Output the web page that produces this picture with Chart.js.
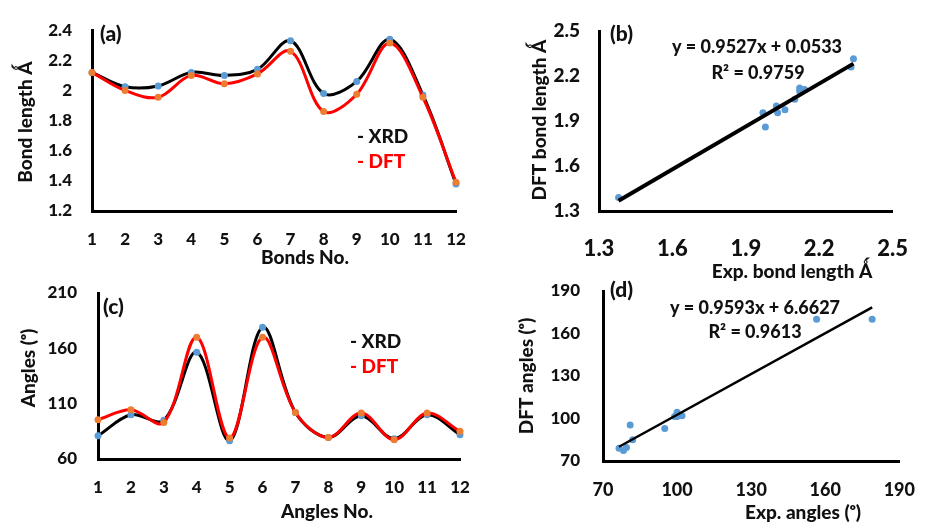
<!DOCTYPE html>
<html>
<head>
<meta charset="utf-8">
<script src="https://cdn.jsdelivr.net/npm/chart.js@4/dist/chart.umd.min.js"></script>
<style>
  html, body { margin: 0; padding: 0; background: #fff; }
  #wrap { position: relative; width: 933px; height: 523px; }
  #wrap canvas { position: absolute; left: 0; top: 0; }
</style>
</head>
<body>
<div id="wrap">
  <canvas id="chartA" width="933" height="523"></canvas>
  <canvas id="chartB" width="933" height="523"></canvas>
  <canvas id="chartC" width="933" height="523"></canvas>
  <canvas id="chartD" width="933" height="523"></canvas>
</div>
<script>
// data
const bondNo = ['1', '2', '3', '4', '5', '6', '7', '8', '9', '10', '11', '12'];
const bondXRD = [2.12, 2.025, 2.03, 2.12, 2.10, 2.14, 2.33, 1.98, 2.06, 2.34, 1.97, 1.38];
const bondDFT = [2.12, 2.00, 1.955, 2.10, 2.045, 2.11, 2.26, 1.86, 1.975, 2.315, 1.955, 1.39];

const angleNo = ['1', '2', '3', '4', '5', '6', '7', '8', '9', '10', '11', '12'];
const angleXRD = [81, 100, 95, 156.5, 76.5, 179, 102, 79.5, 99, 78.3, 100, 82];
const angleDFT = [95.5, 104.5, 93, 170, 79, 170, 102, 79.5, 101.5, 77.4, 101.5, 85];

// fitted lines as printed on the chart
const bondFit = { slope: 0.9527, intercept: 0.0533 };
const angleFit = { slope: 0.9593, intercept: 6.6627 };

// axis ranges / tick steps
const bondLenTicks = { min: 1.2, max: 2.4, step: 0.2 };
const bondScatTicks = { min: 1.3, max: 2.5, step: 0.3 };
const angleTicks = { min: 60, max: 210, step: 50 };
const angleScatTicks = { min: 70, max: 190, step: 30 };

const W = 933, H = 523;
const FONT = "Lato, 'Open Sans', 'DejaVu Sans', sans-serif";
const WEIGHT = '900';
const BLUE = '#5B9BD5', ORANGE = '#ED7D31';

Chart.defaults.font.family = FONT;
Chart.defaults.font.weight = WEIGHT;
Chart.defaults.color = '#111';

// free text (panel letters, legends, axis titles, equations)
const notesPlugin = {
  id: 'notes',
  afterDraw(chart, args, opts) {
    const ctx = chart.ctx;
    (opts.items || []).forEach(n => {
      ctx.save();
      ctx.font = WEIGHT + ' ' + (n.size || 18) + 'px ' + FONT;
      ctx.fillStyle = n.color || '#111';
      ctx.textAlign = n.align || 'center';
      ctx.textBaseline = 'middle';
      ctx.translate(n.x, n.y);
      if (n.rotate) ctx.rotate(-Math.PI / 2);
      ctx.fillText(n.text, 0, 0);
      ctx.restore();
    });
  }
};

const fmt = v => String(+(+v).toFixed(2));

function linScale(t, size, pad, box, axis) {
  const s = {
    type: 'linear', min: t.min, max: t.max,
    grid: { display: false, drawTicks: false },
    border: { display: true, color: '#000', width: 3 },
    ticks: { stepSize: t.step, font: { size: size }, padding: pad, callback: fmt, maxRotation: 0, autoSkip: false }
  };
  if (axis === 'x') s.afterFit = sc => { sc.height = H - box.b; };
  else s.afterFit = sc => { sc.width = box.l; };
  return s;
}

function catScale(labels, size, pad, box) {
  return {
    type: 'category', labels: labels, offset: false,
    grid: { display: false, drawTicks: false },
    border: { display: true, color: '#000', width: 3 },
    ticks: { font: { size: size }, padding: pad, maxRotation: 0, autoSkip: false },
    afterFit: sc => { sc.height = H - box.b; }
  };
}

function baseOptions(box, scales, notes) {
  return {
    responsive: false,
    animation: false,
    events: [],
    layout: { padding: { left: 0, top: box.t, right: W - box.r, bottom: 0 } },
    plugins: { legend: { display: false }, tooltip: { enabled: false }, notes: { items: notes } },
    scales: scales
  };
}

function trend(fit, xs) {
  const lo = Math.min(...xs), hi = Math.max(...xs);
  return [lo, hi].map(x => ({ x: x, y: fit.slope * x + fit.intercept }));
}

function pairs(xs, ys) {
  return xs.map((x, i) => ({ x: x, y: ys[i] }));
}

function curve(data, lineColor, dotColor) {
  return {
    data: data, borderColor: lineColor, borderWidth: 3, tension: 0.35,
    pointRadius: 3.5, pointBorderWidth: 0, pointBackgroundColor: dotColor, clip: false
  };
}

// (a) bond lengths
const boxA = { l: 92, t: 24, r: 456, b: 211 };
new Chart(document.getElementById('chartA'), {
  type: 'line',
  data: {
    labels: bondNo,
    datasets: [curve(bondDFT, '#FF0000', ORANGE), curve(bondXRD, '#000000', BLUE)]
  },
  options: baseOptions(boxA, {
    x: catScale(bondNo, 17, 18, boxA),
    y: linScale(bondLenTicks, 17, 20, boxA, 'y')
  }, [
    { text: '(a)', x: 100, y: 34, size: 21, align: 'left' },
    { text: '- XRD', x: 357, y: 137, size: 19, align: 'left' },
    { text: '- DFT', x: 357, y: 162, size: 19, align: 'left', color: '#FF0000' },
    { text: 'Bond length Ǻ', x: 26, y: 122, size: 19, rotate: true },
    { text: 'Bonds No.', x: 305, y: 258, size: 19 }
  ]),
  plugins: [notesPlugin]
});

// (b) DFT vs experimental bond length
const boxB = { l: 599, t: 31, r: 913, b: 211 };
new Chart(document.getElementById('chartB'), {
  type: 'scatter',
  data: {
    datasets: [
      { data: trend(bondFit, bondXRD), showLine: true, borderColor: '#000', borderWidth: 4, pointRadius: 0, clip: false },
      { data: pairs(bondXRD, bondDFT), pointRadius: 3.5, pointBorderWidth: 0, pointBackgroundColor: BLUE, clip: false }
    ]
  },
  options: baseOptions(boxB, {
    x: linScale(bondScatTicks, 22, 25, boxB, 'x'),
    y: linScale(bondScatTicks, 19, 19, boxB, 'y')
  }, [
    { text: '(b)', x: 610, y: 34, size: 21, align: 'left' },
    { text: 'y = 0.9527x + 0.0533', x: 757, y: 47, size: 18 },
    { text: 'R² = 0.9759', x: 758, y: 73, size: 18 },
    { text: 'DFT bond length Ǻ', x: 540, y: 120, size: 19, rotate: true },
    { text: 'Exp. bond length Ǻ', x: 792, y: 272, size: 19 }
  ]),
  plugins: [notesPlugin]
});

// (c) angles
const boxC = { l: 98, t: 293, r: 460, b: 459 };
new Chart(document.getElementById('chartC'), {
  type: 'line',
  data: {
    labels: angleNo,
    datasets: [curve(angleDFT, '#FF0000', ORANGE), curve(angleXRD, '#000000', BLUE)]
  },
  options: baseOptions(boxC, {
    x: catScale(angleNo, 17, 18, boxC),
    y: linScale(angleTicks, 17, 21, boxC, 'y')
  }, [
    { text: '(c)', x: 103, y: 307, size: 21, align: 'left' },
    { text: '- XRD', x: 350, y: 342, size: 19, align: 'left' },
    { text: '- DFT', x: 350, y: 367, size: 19, align: 'left', color: '#FF0000' },
    { text: 'Angles (ᵒ)', x: 29, y: 368, size: 19, rotate: true },
    { text: 'Angles No.', x: 327, y: 512, size: 19 }
  ]),
  plugins: [notesPlugin]
});

// (d) DFT vs experimental angles
const boxD = { l: 603, t: 291, r: 913, b: 461 };
new Chart(document.getElementById('chartD'), {
  type: 'scatter',
  data: {
    datasets: [
      { data: trend(angleFit, angleXRD), showLine: true, borderColor: '#000', borderWidth: 2.5, pointRadius: 0, clip: false },
      { data: pairs(angleXRD, angleDFT), pointRadius: 3.5, pointBorderWidth: 0, pointBackgroundColor: BLUE, clip: false }
    ]
  },
  options: baseOptions(boxD, {
    x: linScale(angleScatTicks, 18, 18, boxD, 'x'),
    y: linScale(angleScatTicks, 17, 23, boxD, 'y')
  }, [
    { text: '(d)', x: 610, y: 290, size: 21, align: 'left' },
    { text: 'y = 0.9593x + 6.6627', x: 755, y: 308, size: 18 },
    { text: 'R² = 0.9613', x: 755, y: 332, size: 18 },
    { text: 'DFT angles (ᵒ)', x: 527, y: 376, size: 19, rotate: true },
    { text: 'Exp. angles (ᵒ)', x: 803, y: 513, size: 19 }
  ]),
  plugins: [notesPlugin]
});
</script>
</body>
</html>
